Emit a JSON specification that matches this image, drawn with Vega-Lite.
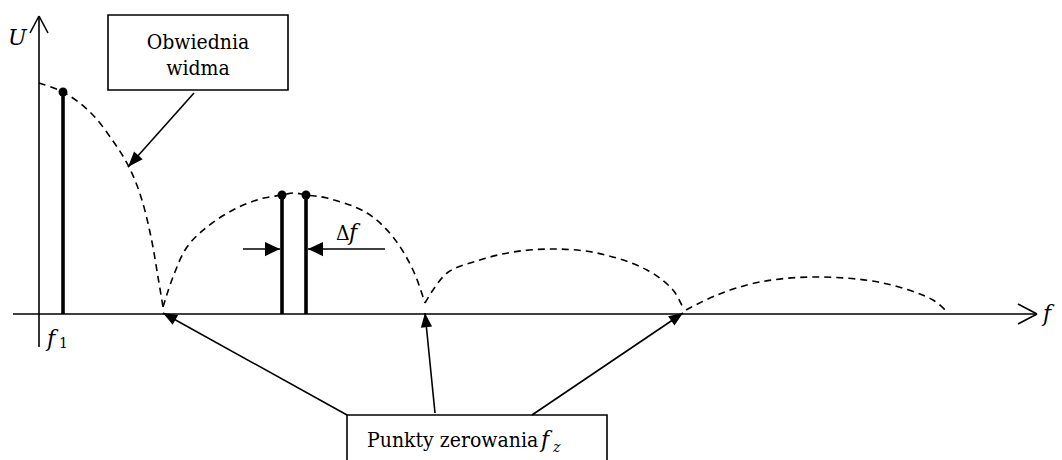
{
  "$schema": "https://vega.github.io/schema/vega-lite/v6.json",
  "width": 1062,
  "height": 460,
  "padding": 0,
  "autosize": {"type": "fit", "contains": "padding"},
  "background": "white",
  "config": {"view": {"stroke": null}, "axis": {"disable": true}},
  "datasets": {
    "segs": [
      {"id": "faxis", "f": -26, "u": 0, "f2": 997, "u2": 0},
      {"id": "uaxis", "f": 0, "u": -33, "f2": 0, "u2": 298},
      {"id": "fhead1", "f": 979, "u": 10, "f2": 998, "u2": 0},
      {"id": "fhead2", "f": 979, "u": -10, "f2": 998, "u2": 0},
      {"id": "uhead1", "f": -9, "u": 281, "f2": 0, "u2": 298},
      {"id": "uhead2", "f": 9, "u": 281, "f2": 0, "u2": 298},
      {"id": "envArrow", "f": 155, "u": 221, "f2": 89, "u2": 147},
      {"id": "zero1", "f": 308, "u": -101, "f2": 124, "u2": 1},
      {"id": "zero2", "f": 396, "u": -99, "f2": 386, "u2": 1},
      {"id": "zero3", "f": 493, "u": -101, "f2": 644, "u2": 1},
      {"id": "dfL", "f": 204, "u": 65, "f2": 241, "u2": 65},
      {"id": "dfR", "f": 346, "u": 65, "f2": 269, "u2": 65}
    ],
    "heads": [
      {"id": "envArrow", "f": 89, "u": 147, "dir": "a132"},
      {"id": "zero1", "f": 124, "u": 1, "dir": "a209"},
      {"id": "zero2", "f": 386, "u": 1, "dir": "a264"},
      {"id": "zero3", "f": 644, "u": 1, "dir": "a326"},
      {"id": "dfL", "f": 241, "u": 65, "dir": "a0"},
      {"id": "dfR", "f": 269, "u": 65, "dir": "a180"}
    ],
    "envelope": [
      {"lobe": 0, "i": 0, "f": 0, "u": 231},
      {"lobe": 0, "i": 1, "f": 24, "u": 222},
      {"lobe": 0, "i": 2, "f": 51, "u": 202},
      {"lobe": 0, "i": 3, "f": 74, "u": 173},
      {"lobe": 0, "i": 4, "f": 90, "u": 147},
      {"lobe": 0, "i": 5, "f": 102, "u": 117},
      {"lobe": 0, "i": 6, "f": 112, "u": 77},
      {"lobe": 0, "i": 7, "f": 119, "u": 37},
      {"lobe": 0, "i": 8, "f": 124, "u": 7},
      {"lobe": 1, "i": 0, "f": 124, "u": 7},
      {"lobe": 1, "i": 1, "f": 134, "u": 37},
      {"lobe": 1, "i": 2, "f": 148, "u": 67},
      {"lobe": 1, "i": 3, "f": 168, "u": 87},
      {"lobe": 1, "i": 4, "f": 194, "u": 104},
      {"lobe": 1, "i": 5, "f": 221, "u": 115},
      {"lobe": 1, "i": 6, "f": 243, "u": 119},
      {"lobe": 1, "i": 7, "f": 255, "u": 121},
      {"lobe": 1, "i": 8, "f": 267, "u": 119},
      {"lobe": 1, "i": 9, "f": 288, "u": 116},
      {"lobe": 1, "i": 10, "f": 328, "u": 101},
      {"lobe": 1, "i": 11, "f": 354, "u": 77},
      {"lobe": 1, "i": 12, "f": 374, "u": 44},
      {"lobe": 1, "i": 13, "f": 386, "u": 11},
      {"lobe": 2, "i": 0, "f": 386, "u": 11},
      {"lobe": 2, "i": 1, "f": 408, "u": 41},
      {"lobe": 2, "i": 2, "f": 441, "u": 54},
      {"lobe": 2, "i": 3, "f": 474, "u": 62},
      {"lobe": 2, "i": 4, "f": 514, "u": 65},
      {"lobe": 2, "i": 5, "f": 558, "u": 61},
      {"lobe": 2, "i": 6, "f": 608, "u": 44},
      {"lobe": 2, "i": 7, "f": 634, "u": 24},
      {"lobe": 2, "i": 8, "f": 644, "u": 6},
      {"lobe": 3, "i": 0, "f": 647, "u": 4},
      {"lobe": 3, "i": 1, "f": 678, "u": 19},
      {"lobe": 3, "i": 2, "f": 721, "u": 32},
      {"lobe": 3, "i": 3, "f": 778, "u": 37},
      {"lobe": 3, "i": 4, "f": 844, "u": 31},
      {"lobe": 3, "i": 5, "f": 894, "u": 14},
      {"lobe": 3, "i": 6, "f": 908, "u": 2}
    ],
    "lines": [
      {"name": "f1", "f": 24, "u": 0, "u2": 222},
      {"name": "fa", "f": 243, "u": 0, "u2": 119},
      {"name": "fb", "f": 267, "u": 0, "u2": 119}
    ],
    "boxes": [
      {"box": "envelope", "f": 69, "f2": 249, "u": 299, "u2": 224},
      {"box": "zeros", "f": 308, "f2": 568, "u": -101, "u2": -170}
    ],
    "labels": [
      {"style": "center", "f": 159, "u": 265, "text": "Obwiednia"},
      {"style": "center", "f": 159, "u": 239, "text": "widma"},
      {"style": "reg", "f": 328, "u": -133, "text": "Punkty zerowania"},
      {"style": "reg", "f": 297, "u": 74, "text": "Δ"},
      {"style": "ital", "f": -31, "u": 269, "text": "U"},
      {"style": "ital", "f": 1004, "u": -7, "text": "f"},
      {"style": "ital", "f": 8, "u": -32, "text": "f"},
      {"style": "ital", "f": 310, "u": 74, "text": "f"},
      {"style": "ital", "f": 502, "u": -133, "text": "f"},
      {"style": "sub", "f": 20, "u": -34, "text": "1"},
      {"style": "subital", "f": 514, "u": -138, "text": "z"}
    ]
  },
  "encoding": {
    "x": {"field": "f", "type": "quantitative", "axis": null, "scale": {"domain": [-39, 1023], "nice": false, "zero": false}},
    "y": {"field": "u", "type": "quantitative", "axis": null, "scale": {"domain": [-146, 314], "nice": false, "zero": false}}
  },
  "layer": [
    {
      "data": {"name": "boxes"},
      "mark": {"type": "rect", "fill": "white", "stroke": "black", "strokeWidth": 1.6, "clip": true},
      "encoding": {"x2": {"field": "f2"}, "y2": {"field": "u2"}}
    },
    {
      "data": {"name": "envelope"},
      "mark": {"type": "line", "interpolate": "catmull-rom", "color": "black", "strokeWidth": 1.6, "strokeDash": [7, 5]},
      "encoding": {"detail": {"field": "lobe", "type": "nominal"}, "order": {"field": "i", "type": "quantitative"}}
    },
    {
      "data": {"name": "segs"},
      "mark": {"type": "rule", "color": "black", "strokeWidth": 1.6},
      "encoding": {"x2": {"field": "f2"}, "y2": {"field": "u2"}}
    },
    {
      "data": {"name": "lines"},
      "mark": {"type": "rule", "color": "black", "strokeWidth": 3.6},
      "encoding": {"y2": {"field": "u2"}}
    },
    {
      "data": {"name": "lines"},
      "mark": {"type": "point", "filled": true, "color": "black", "opacity": 1, "size": 80},
      "encoding": {"y": {"field": "u2", "type": "quantitative"}}
    },
    {
      "data": {"name": "heads"},
      "transform": [{"filter": "datum.dir === 'a132'"}],
      "mark": {"type": "point", "filled": true, "color": "black", "opacity": 1, "size": 240, "angle": 132, "shape": "M0,0L-2,-0.75L-2,0.75Z"}
    },
    {
      "data": {"name": "heads"},
      "transform": [{"filter": "datum.dir === 'a209'"}],
      "mark": {"type": "point", "filled": true, "color": "black", "opacity": 1, "size": 200, "angle": 209, "shape": "M0,0L-2,-0.8L-2,0.8Z"}
    },
    {
      "data": {"name": "heads"},
      "transform": [{"filter": "datum.dir === 'a264'"}],
      "mark": {"type": "point", "filled": true, "color": "black", "opacity": 1, "size": 200, "angle": 264, "shape": "M0,0L-2,-0.8L-2,0.8Z"}
    },
    {
      "data": {"name": "heads"},
      "transform": [{"filter": "datum.dir === 'a326'"}],
      "mark": {"type": "point", "filled": true, "color": "black", "opacity": 1, "size": 200, "angle": 326, "shape": "M0,0L-2,-0.8L-2,0.8Z"}
    },
    {
      "data": {"name": "heads"},
      "transform": [{"filter": "datum.dir === 'a0'"}],
      "mark": {"type": "point", "filled": true, "color": "black", "opacity": 1, "size": 225, "angle": 0, "shape": "M0,0L-2,-0.95L-2,0.95Z"}
    },
    {
      "data": {"name": "heads"},
      "transform": [{"filter": "datum.dir === 'a180'"}],
      "mark": {"type": "point", "filled": true, "color": "black", "opacity": 1, "size": 225, "angle": 180, "shape": "M0,0L-2,-0.95L-2,0.95Z"}
    },
    {
      "data": {"name": "labels"},
      "transform": [{"filter": "datum.style === 'center'"}],
      "mark": {"type": "text", "font": "DejaVu Serif Condensed", "fontSize": 21, "align": "center", "baseline": "alphabetic", "color": "black"},
      "encoding": {"text": {"field": "text"}}
    },
    {
      "data": {"name": "labels"},
      "transform": [{"filter": "datum.style === 'reg'"}],
      "mark": {"type": "text", "font": "DejaVu Serif Condensed", "fontSize": 21, "align": "left", "baseline": "alphabetic", "color": "black"},
      "encoding": {"text": {"field": "text"}}
    },
    {
      "data": {"name": "labels"},
      "transform": [{"filter": "datum.style === 'ital'"}],
      "mark": {"type": "text", "font": "DejaVu Serif", "fontSize": 22, "fontStyle": "italic", "align": "left", "baseline": "alphabetic", "color": "black"},
      "encoding": {"text": {"field": "text"}}
    },
    {
      "data": {"name": "labels"},
      "transform": [{"filter": "datum.style === 'sub'"}],
      "mark": {"type": "text", "font": "DejaVu Serif", "fontSize": 14, "align": "left", "baseline": "alphabetic", "color": "black"},
      "encoding": {"text": {"field": "text"}}
    },
    {
      "data": {"name": "labels"},
      "transform": [{"filter": "datum.style === 'subital'"}],
      "mark": {"type": "text", "font": "DejaVu Serif", "fontSize": 14, "fontStyle": "italic", "align": "left", "baseline": "alphabetic", "color": "black"},
      "encoding": {"text": {"field": "text"}}
    }
  ]
}
